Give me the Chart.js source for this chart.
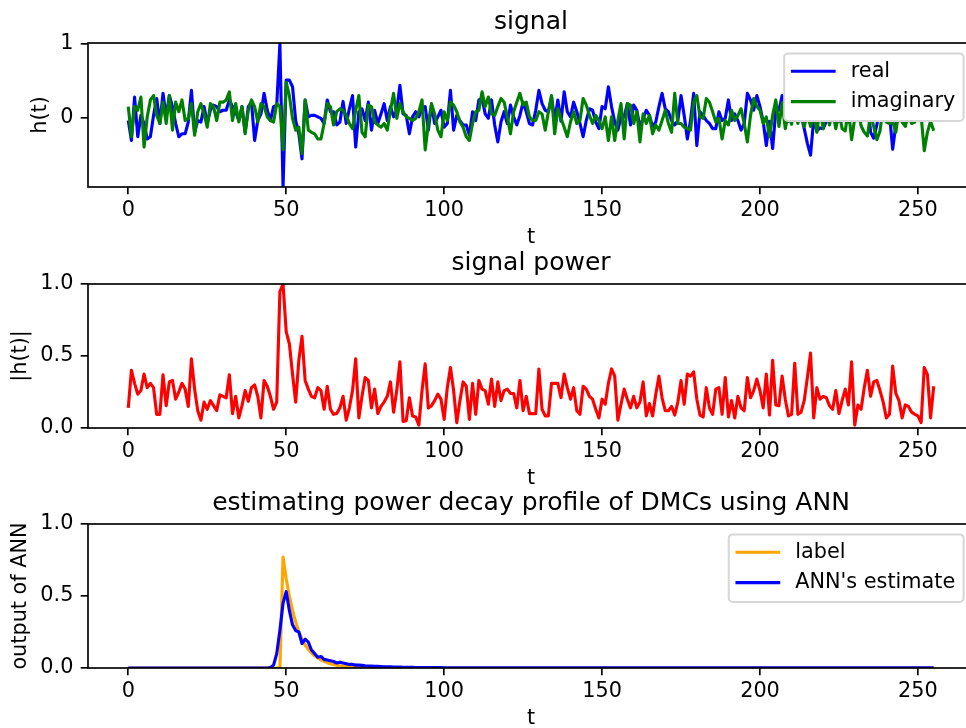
<!DOCTYPE html>
<html>
<head>
<meta charset="utf-8">
<script src="https://cdn.jsdelivr.net/npm/chart.js@4.4.1/dist/chart.umd.min.js"></script>
<style>
  html, body { margin: 0; padding: 0; background: #fff; overflow: hidden; }
  #wrap { position: relative; width: 966px; height: 728px; overflow: hidden; background: #fff; }
  canvas { position: absolute; left: 0; }
</style>
</head>
<body>
<div id="wrap">
  <canvas id="c1" width="980" height="251" style="top:0px"></canvas>
  <canvas id="c2" width="980" height="251" style="top:241px"></canvas>
  <canvas id="c3" width="980" height="251" style="top:481px"></canvas>
</div>
<script>
// real part of h(t), t = 0..255
const real = [
  -0.04, -0.31, 0.28, -0.26, 0.03, -0.08, -0.29, -0.26, 0.03, 0.26,
  -0.08, 0.33, 0.01, 0.30, 0.15, -0.08, -0.26, -0.22, -0.22, -0.06,
  0.37, -0.20, -0.04, -0.06, 0.15, -0.08, 0.10, 0.17, 0.15, 0.08,
  0.10, 0.10, 0.24, 0.15, 0.08, -0.04, 0.15, -0.20, 0.15, 0.21,
  -0.31, -0.04, 0.05, 0.33, 0.10, -0.04, 0.15, 0.17, 1.00, -0.94,
  0.51, 0.51, 0.42, -0.04, -0.22, -0.56, 0.24, 0.01, 0.03, 0.03,
  0.01, -0.01, -0.08, 0.24, 0.08, 0.08, -0.10, -0.06, 0.22, -0.08,
  0.12, 0.30, -0.40, 0.08, 0.12, -0.04, 0.21, -0.17, 0.10, -0.08,
  0.05, 0.19, -0.04, 0.15, 0.01, 0.10, 0.44, 0.05, 0.03, -0.22,
  0.01, 0.08, 0.01, 0.12, 0.15, -0.17, 0.17, -0.08, 0.01, 0.10,
  -0.13, -0.08, 0.37, -0.17, 0.03, -0.04, -0.10, -0.10, -0.24, 0.08,
  -0.04, 0.24, 0.26, 0.05, -0.01, 0.24, -0.10, -0.33, -0.06, 0.08,
  -0.08, 0.17, 0.01, -0.10, 0.03, 0.21, 0.08, -0.08, -0.10, 0.10,
  0.37, 0.19, 0.10, 0.08, 0.28, -0.04, 0.24, -0.05, 0.35, 0.08,
  0.01, 0.21, 0.08, -0.08, -0.26, -0.04, 0.12, 0.10, -0.06, -0.15,
  0.15, 0.12, 0.42, 0.15, -0.06, -0.17, 0.01, 0.01, 0.19, -0.10,
  0.17, 0.10, -0.13, -0.01, 0.10, 0.03, -0.13, -0.06, 0.15, 0.33,
  0.12, 0.08, -0.04, -0.10, -0.04, 0.30, 0.03, -0.29, -0.04, 0.33,
  -0.38, 0.08, 0.03, -0.04, -0.08, -0.15, -0.15, 0.08, -0.04, -0.01,
  0.24, -0.04, 0.05, -0.04, -0.17, -0.08, 0.33, 0.24, 0.10, 0.30,
  0.15, -0.05, -0.38, -0.05, -0.42, 0.10, 0.10, 0.30, 0.12, -0.05,
  0.02, 0.38, -0.05, 0.04, -0.15, -0.35, -0.51, -0.02, -0.18, -0.14,
  -0.15, -0.05, 0.10, 0.05, 0.20, -0.05, 0.12, 0.20, -0.06, 0.35,
  0.01, 0.10, -0.05, 0.18, 0.30, -0.20, -0.28, -0.10, 0.18, 0.10,
  -0.03, 0.05, -0.43, -0.10, 0.15, 0.02, -0.10, 0.12, -0.06, 0.05,
  -0.03, -0.01, 0.15, 0.30, 0.05, 0.18
];

// imaginary part of h(t)
const imag = [
  0.15, -0.26, 0.15, 0.10, 0.28, -0.40, 0.01, 0.24, 0.30, 0.03,
  -0.08, 0.21, -0.08, 0.30, -0.17, 0.21, 0.08, 0.24, -0.04, -0.01,
  0.19, -0.24, 0.08, 0.19, 0.05, -0.13, 0.19, 0.15, -0.04, 0.21,
  0.21, 0.24, 0.35, -0.04, 0.19, -0.06, 0.15, -0.22, 0.10, 0.24,
  0.15, -0.06, 0.19, 0.15, 0.01, -0.04, -0.06, 0.19, 0.15, -0.44,
  0.48, 0.30, -0.01, -0.17, -0.13, -0.49, 0.24, -0.17, -0.20, -0.22,
  -0.29, -0.29, -0.08, 0.19, 0.15, -0.10, 0.08, 0.12, 0.10, 0.03,
  -0.08, -0.15, 0.10, 0.30, -0.20, -0.26, 0.17, 0.15, -0.06, -0.10,
  -0.13, -0.08, -0.17, 0.10, 0.33, -0.01, 0.19, 0.08, 0.01, -0.01,
  -0.04, -0.01, 0.08, 0.24, -0.44, -0.08, 0.19, 0.05, -0.17, -0.26,
  0.08, -0.04, 0.21, 0.17, 0.08, -0.06, -0.13, -0.26, -0.31, -0.08,
  0.08, 0.10, 0.35, 0.15, 0.28, 0.05, 0.03, 0.15, 0.26, 0.21,
  0.01, -0.22, 0.08, 0.21, 0.33, 0.17, 0.21, 0.01, -0.04, -0.04,
  0.08, 0.05, -0.17, 0.08, 0.30, -0.22, 0.12, -0.01, -0.13, -0.26,
  -0.06, 0.08, -0.08, -0.04, 0.26, 0.17, 0.03, -0.08, 0.03, -0.04,
  -0.15, 0.01, -0.31, 0.01, -0.31, -0.04, 0.19, -0.29, 0.19, 0.17,
  -0.08, 0.08, -0.33, 0.05, -0.08, 0.03, -0.22, -0.10, -0.17, -0.04,
  0.10, -0.08, -0.20, 0.33, -0.08, -0.08, -0.13, -0.15, -0.17, 0.21,
  0.30, 0.01, -0.01, 0.26, 0.21, 0.08, -0.06, -0.01, -0.29, -0.04,
  -0.10, 0.10, -0.04, 0.03, 0.12, -0.08, -0.33, 0.03, 0.26, 0.15,
  0.10, -0.08, 0.01, -0.26, 0.03, 0.24, -0.12, 0.20, -0.15, 0.06,
  -0.09, 0.25, -0.08, 0.10, -0.12, 0.05, -0.12, 0.06, -0.20, 0.12,
  -0.15, 0.20, -0.10, 0.10, -0.15, 0.08, -0.15, -0.18, 0.12, -0.30,
  -0.01, 0.12, -0.11, -0.20, -0.25, 0.05, -0.12, -0.30, -0.18, 0.15,
  -0.06, -0.08, -0.05, -0.20, 0.10, -0.06, -0.12, 0.05, -0.08, -0.06,
  0.07, 0.03, -0.45, -0.20, -0.05, -0.18
];

// |h(t)|
const power = [
  0.14, 0.40, 0.31, 0.235, 0.26, 0.375, 0.28, 0.31, 0.28, 0.095,
  0.095, 0.37, 0.155, 0.32, 0.33, 0.20, 0.25, 0.31, 0.27, 0.15,
  0.48, 0.27, 0.12, 0.054, 0.18, 0.13, 0.19, 0.155, 0.12, 0.23,
  0.22, 0.21, 0.37, 0.10, 0.22, 0.07, 0.155, 0.26, 0.185, 0.28,
  0.30, 0.22, 0.07, 0.33, 0.29, 0.22, 0.13, 0.18, 0.946, 1.0,
  0.67, 0.585, 0.375, 0.18, 0.47, 0.636, 0.33, 0.27, 0.22, 0.21,
  0.28, 0.26, 0.13, 0.29, 0.13, 0.095, 0.10, 0.14, 0.22, 0.054,
  0.14, 0.26, 0.48, 0.07, 0.22, 0.35, 0.33, 0.14, 0.27, 0.10,
  0.15, 0.18, 0.22, 0.32, 0.11, 0.26, 0.46, 0.045, 0.05, 0.21,
  0.084, 0.077, 0.02, 0.26, 0.445, 0.138, 0.155, 0.19, 0.235, 0.20,
  0.06, 0.28, 0.42, 0.26, 0.037, 0.19, 0.32, 0.29, 0.06, 0.31,
  0.095, 0.33, 0.27, 0.26, 0.165, 0.34, 0.15, 0.32, 0.19, 0.26,
  0.27, 0.24, 0.24, 0.14, 0.33, 0.12, 0.22, 0.10, 0.10, 0.10,
  0.41, 0.13, 0.084, 0.084, 0.31, 0.31, 0.31, 0.21, 0.375, 0.28,
  0.20, 0.28, 0.12, 0.095, 0.29, 0.27, 0.22, 0.20, 0.13, 0.07,
  0.20, 0.165, 0.31, 0.41, 0.36, 0.054, 0.165, 0.27, 0.20, 0.14,
  0.22, 0.14, 0.18, 0.32, 0.084, 0.17, 0.084, 0.235, 0.36, 0.21,
  0.12, 0.12, 0.15, 0.09, 0.18, 0.33, 0.165, 0.375, 0.36, 0.39,
  0.20, 0.09, 0.077, 0.28, 0.138, 0.095, 0.27, 0.28, 0.095, 0.35,
  0.077, 0.19, 0.07, 0.22, 0.14, 0.12, 0.35, 0.21, 0.26, 0.34,
  0.26, 0.14, 0.375, 0.09, 0.47, 0.16, 0.155, 0.36, 0.20, 0.084,
  0.095, 0.45, 0.095, 0.11, 0.19, 0.35, 0.52, 0.07, 0.28, 0.20,
  0.22, 0.21, 0.155, 0.13, 0.26, 0.10, 0.19, 0.27, 0.16, 0.46,
  0.02, 0.16, 0.13, 0.28, 0.40, 0.22, 0.32, 0.33, 0.26, 0.18,
  0.07, 0.095, 0.43, 0.24, 0.19, 0.07, 0.16, 0.15, 0.11, 0.095,
  0.084, 0.037, 0.42, 0.37, 0.07, 0.29
];

// label (true power decay profile)
const label = [
  0, 0, 0, 0, 0, 0, 0, 0, 0, 0, 0, 0, 0, 0, 0, 0,
  0, 0, 0, 0, 0, 0, 0, 0, 0, 0, 0, 0, 0, 0, 0, 0,
  0, 0, 0, 0, 0, 0, 0, 0, 0, 0, 0, 0, 0, 0, 0, 0,
  0, 0.77, 0.62, 0.50, 0.40, 0.32, 0.25, 0.20, 0.16, 0.13, 0.105, 0.085, 0.07, 0.057, 0.046, 0.037,
  0.03, 0.024, 0.019, 0.015, 0.012, 0.01, 0.008, 0.006, 0.005, 0.004, 0.003, 0.002, 0.002, 0.001, 0.001, 0,
  0, 0, 0, 0, 0, 0, 0, 0, 0, 0, 0, 0, 0, 0, 0, 0,
  0, 0, 0, 0, 0, 0, 0, 0, 0, 0, 0, 0, 0, 0, 0, 0,
  0, 0, 0, 0, 0, 0, 0, 0, 0, 0, 0, 0, 0, 0, 0, 0,
  0, 0, 0, 0, 0, 0, 0, 0, 0, 0, 0, 0, 0, 0, 0, 0,
  0, 0, 0, 0, 0, 0, 0, 0, 0, 0, 0, 0, 0, 0, 0, 0,
  0, 0, 0, 0, 0, 0, 0, 0, 0, 0, 0, 0, 0, 0, 0, 0,
  0, 0, 0, 0, 0, 0, 0, 0, 0, 0, 0, 0, 0, 0, 0, 0,
  0, 0, 0, 0, 0, 0, 0, 0, 0, 0, 0, 0, 0, 0, 0, 0,
  0, 0, 0, 0, 0, 0, 0, 0, 0, 0, 0, 0, 0, 0, 0, 0,
  0, 0, 0, 0, 0, 0, 0, 0, 0, 0, 0, 0, 0, 0, 0, 0,
  0, 0, 0, 0, 0, 0, 0, 0, 0, 0, 0, 0, 0, 0, 0, 0
];

// ANN's estimate
const estimate = [
  0, 0, 0, 0, 0, 0, 0, 0, 0, 0, 0, 0, 0, 0, 0, 0,
  0, 0, 0, 0, 0, 0, 0, 0, 0, 0, 0, 0, 0, 0, 0, 0,
  0, 0, 0, 0, 0, 0, 0, 0, 0, 0, 0, 0, 0, 0.003, 0.02, 0.10,
  0.26, 0.45, 0.53, 0.40, 0.30, 0.26, 0.25, 0.17, 0.20, 0.18, 0.125, 0.10, 0.075, 0.08, 0.06, 0.055,
  0.05, 0.045, 0.035, 0.04, 0.035, 0.03, 0.025, 0.025, 0.02, 0.02, 0.018, 0.015, 0.014, 0.013, 0.012, 0.011,
  0.01, 0.009, 0.009, 0.008, 0.007, 0.007, 0.006, 0.005, 0.005, 0.004, 0.004, 0.003, 0.003, 0.003, 0.003, 0.003,
  0.003, 0.003, 0.003, 0.003, 0.002, 0.002, 0.002, 0.002, 0.002, 0.002, 0.002, 0.002, 0.002, 0.002, 0.002, 0.002,
  0.002, 0.002, 0.002, 0.002, 0.002, 0.002, 0.002, 0.002, 0.001, 0.001, 0.001, 0.001, 0.001, 0.001, 0.001, 0.001,
  0.001, 0.001, 0.001, 0.001, 0.001, 0.001, 0.001, 0.001, 0.001, 0.001, 0.001, 0.001, 0.001, 0.001, 0.001, 0.001,
  0.001, 0.001, 0.001, 0.001, 0.001, 0.001, 0.001, 0.001, 0.001, 0.001, 0.001, 0.001, 0.001, 0.001, 0.001, 0.001,
  0.001, 0.001, 0.001, 0.001, 0.001, 0.001, 0.001, 0.001, 0.001, 0.001, 0.001, 0.001, 0.001, 0.001, 0.001, 0.001,
  0.001, 0.001, 0.001, 0.001, 0.001, 0.001, 0.001, 0.001, 0.001, 0.001, 0.001, 0.001, 0.001, 0.001, 0.001, 0.001,
  0.001, 0.001, 0.001, 0.001, 0.001, 0.001, 0.001, 0.001, 0.001, 0.001, 0.001, 0.001, 0.001, 0.001, 0.001, 0.001,
  0.001, 0.001, 0.001, 0.001, 0.001, 0.001, 0.001, 0.001, 0.001, 0.001, 0.001, 0.001, 0.001, 0.001, 0.001, 0.001,
  0.001, 0.001, 0.001, 0.001, 0.001, 0.001, 0.001, 0.001, 0.001, 0.001, 0.001, 0.001, 0.001, 0.001, 0.001, 0.001,
  0.001, 0.001, 0.001, 0.001, 0.001, 0.001, 0.001, 0.001, 0.001, 0.001, 0.001, 0.001, 0.001, 0.001, 0.001, 0.001
];

// ticks
const xTicks = [0, 50, 100, 150, 200, 250];
const yTicks1 = [0, 1];
const yTickLabels1 = ["0", "1"];
const yTicks23 = [0, 0.5, 1.0];
const yTickLabels23 = ["0.0", "0.5", "1.0"];

const FONT = "'DejaVu Sans', sans-serif";
const FS = 20.8;       // 10pt at 150 dpi
const LW = 3.125;      // 1.5pt lines
const TICK = 7.3;

const points = arr => arr.map((v, i) => ({ x: i, y: v }));

// axes frame on all four sides (drawn over the lines, like matplotlib spines)
const frame = {
  id: "frame",
  afterDatasetsDraw(chart) {
    const { ctx, chartArea: a } = chart;
    ctx.save();
    ctx.strokeStyle = "#000";
    ctx.lineWidth = 1.67;
    ctx.strokeRect(a.left, a.top, a.right - a.left, a.bottom - a.top);
    ctx.restore();
  }
};

// legend inside the axes, upper right
const insetLegend = {
  id: "insetLegend",
  afterDraw(chart, args, opts) {
    if (!opts.show) return;
    const ctx = chart.ctx, a = chart.chartArea;
    const items = chart.data.datasets;
    ctx.save();
    ctx.font = FS + "px " + FONT;
    const tw = Math.max(...items.map(d => ctx.measureText(d.label).width));
    const pad = 0.4 * FS, hl = 2 * FS, htp = 0.8 * FS;
    const w = pad + hl + htp + tw + pad;
    const h = 67.5;
    const x = a.right - 0.5 * FS - w, y = a.top + 0.5 * FS;
    ctx.beginPath();
    ctx.roundRect(x, y, w, h, 4);
    ctx.fillStyle = "#ffffff";
    ctx.fill();
    ctx.strokeStyle = "#d6d6d6";
    ctx.lineWidth = 2;
    ctx.stroke();
    items.forEach((d, i) => {
      const cy = y + 17.8 + i * 30.4;
      ctx.strokeStyle = d.borderColor;
      ctx.lineWidth = LW;
      ctx.lineCap = "square";
      ctx.beginPath();
      ctx.moveTo(x + pad, cy);
      ctx.lineTo(x + pad + hl, cy);
      ctx.stroke();
      ctx.fillStyle = "#000";
      ctx.textBaseline = "middle";
      ctx.fillText(d.label, x + pad + hl + htp, cy);
    });
    ctx.restore();
  }
};

function line(labelText, arr, color, order) {
  return {
    label: labelText,
    data: points(arr),
    borderColor: color,
    borderWidth: LW,
    pointRadius: 0,
    tension: 0,
    fill: false,
    borderJoinStyle: "round",
    clip: 0,
    order: order
  };
}

function makeChart(id, title, datasets, yMin, yMax, yTicks, yLabels, yTitle, yTitlePad, showLegend) {
  new Chart(document.getElementById(id), {
    type: "line",
    data: { datasets: datasets },
    plugins: [frame, insetLegend],
    options: {
      responsive: false,
      animation: false,
      devicePixelRatio: 1,
      layout: { padding: { left: 0, right: 6, top: 0, bottom: 0 } },
      plugins: {
        legend: { display: false },
        tooltip: { enabled: false },
        title: {
          display: true, text: title, fullSize: false, color: "#000",
          font: { family: FONT, size: 25, weight: "normal" },
          padding: { top: 7, bottom: 6 }
        },
        insetLegend: { show: showLegend }
      },
      scales: {
        x: {
          type: "linear", min: -12.75, max: 267.75,
          afterBuildTicks: s => { s.ticks = xTicks.map(v => ({ value: v })); },
          afterFit: s => { s.height = 64; },
          ticks: { color: "#000", font: { family: FONT, size: FS }, padding: 4.3,
                   maxRotation: 0, autoSkip: false, callback: v => String(v) },
          grid: { drawOnChartArea: false, drawTicks: true, tickLength: TICK,
                  lineWidth: 1.67, tickWidth: 1.67, tickColor: "#000" },
          border: { display: false },
          title: { display: true, text: "t", color: "#000",
                   font: { family: FONT, size: FS }, padding: { top: 0, bottom: 1 } }
        },
        y: {
          min: yMin, max: yMax,
          afterBuildTicks: s => { s.ticks = yTicks.map(v => ({ value: v })); },
          afterFit: s => { s.width = 88; },
          ticks: { color: "#000", font: { family: FONT, size: FS }, padding: TICK,
                   autoSkip: false, callback: (v, i) => yLabels[i] },
          grid: { drawOnChartArea: false, drawTicks: true, tickLength: TICK,
                  lineWidth: 1.67, tickWidth: 1.67, tickColor: "#000" },
          border: { display: false },
          title: { display: true, text: yTitle, color: "#000",
                   font: { family: FONT, size: FS }, padding: { top: yTitlePad, bottom: 0 } }
        }
      }
    }
  });
}

makeChart("c1", "signal",
  [line("real", real, "#0000ff", 1), line("imaginary", imag, "#008000", 0)],
  -0.943, 1.014, yTicks1, yTickLabels1, "h(t)", 28.5, true);

makeChart("c2", "signal power",
  [line("|h(t)|", power, "#ff0000", 0)],
  0, 1, yTicks23, yTickLabels23, "|h(t)|", 8, false);

makeChart("c3", "estimating power decay profile of DMCs using ANN",
  [line("label", label, "#ffa500", 1), line("ANN's estimate", estimate, "#0000ff", 0)],
  0, 1, yTicks23, yTickLabels23, "output of ANN", 8, true);
</script>
</body>
</html>
